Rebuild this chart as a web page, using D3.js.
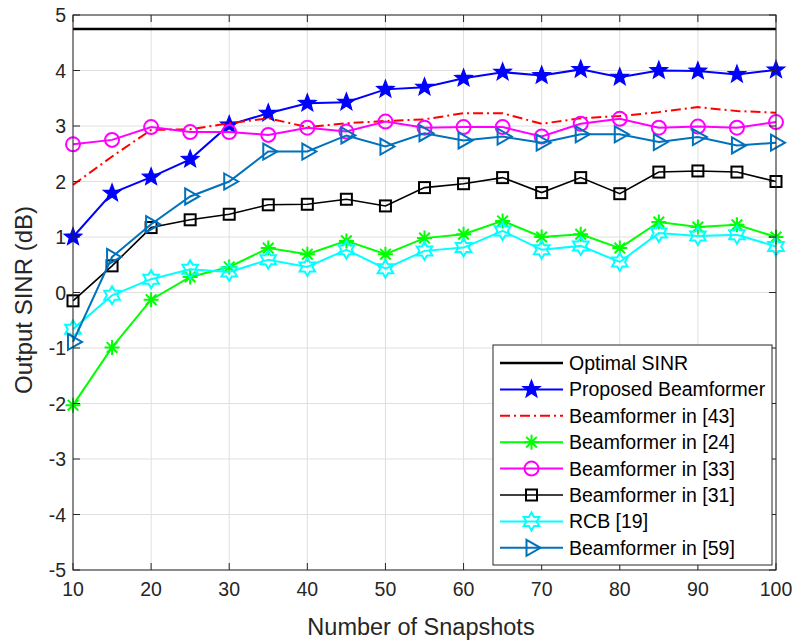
<!DOCTYPE html>
<html>
<head>
<meta charset="utf-8">
<script src="https://cdn.jsdelivr.net/npm/d3@7"></script>
<style>
  body { margin: 0; background: #fff; }
  svg text { font-family: "Liberation Sans", Arial, Helvetica, sans-serif; fill: #262626; }
</style>
</head>
<body>
<svg id="chart" width="798" height="643"></svg>
<script>
// snapshots on x axis
var snapshots = [10, 15, 20, 25, 30, 35, 40, 45, 50, 55, 60, 65, 70, 75, 80, 85, 90, 95, 100];

var optimal_sinr = 4.75;
var proposed = [1.0, 1.79, 2.08, 2.40, 3.02, 3.23, 3.41, 3.43, 3.66, 3.70, 3.86, 3.97, 3.91, 4.02, 3.88, 4.0, 3.99, 3.93, 4.01];
var bf43 = [1.94, 2.45, 2.93, 2.94, 3.05, 3.14, 2.98, 3.05, 3.09, 3.12, 3.23, 3.23, 3.04, 3.14, 3.18, 3.25, 3.34, 3.27, 3.24];
var bf24 = [-2.03, -0.99, -0.13, 0.28, 0.46, 0.80, 0.69, 0.93, 0.69, 0.98, 1.05, 1.29, 1.0, 1.05, 0.80, 1.27, 1.18, 1.22, 1.0];
var bf33 = [2.67, 2.75, 2.98, 2.89, 2.89, 2.84, 2.97, 2.90, 3.08, 2.97, 2.98, 2.98, 2.81, 3.04, 3.13, 2.97, 2.99, 2.97, 3.07];
var bf31 = [-0.15, 0.48, 1.17, 1.31, 1.41, 1.58, 1.59, 1.68, 1.56, 1.89, 1.96, 2.07, 1.80, 2.07, 1.78, 2.17, 2.19, 2.17, 2.0];
var rcb19 = [-0.66, -0.05, 0.24, 0.42, 0.37, 0.59, 0.46, 0.77, 0.43, 0.75, 0.81, 1.11, 0.77, 0.84, 0.55, 1.07, 1.02, 1.04, 0.83];
var bf59 = [-0.89, 0.64, 1.23, 1.73, 2.0, 2.54, 2.54, 2.83, 2.63, 2.87, 2.74, 2.81, 2.70, 2.85, 2.85, 2.71, 2.80, 2.65, 2.70];

var x_ticks = [10, 20, 30, 40, 50, 60, 70, 80, 90, 100];
var y_ticks = [-5, -4, -3, -2, -1, 0, 1, 2, 3, 4, 5];

var series = [
    { name: "Optimal SINR", values: snapshots.map(() => optimal_sinr), color: "#000000", marker: "none", dash: null, width: 2.5 },
    { name: "Proposed Beamformer", values: proposed, color: "#0000ff", marker: "pentagram", dash: null, width: 2 },
    { name: "Beamformer in [43]", values: bf43, color: "#ff0000", marker: "none", dash: "10,4,2,4", width: 2 },
    { name: "Beamformer in [24]", values: bf24, color: "#00ff00", marker: "asterisk", dash: null, width: 2 },
    { name: "Beamformer in [33]", values: bf33, color: "#ff00ff", marker: "circle", dash: null, width: 2 },
    { name: "Beamformer in [31]", values: bf31, color: "#000000", marker: "square", dash: null, width: 1.6 },
    { name: "RCB [19]", values: rcb19, color: "#00ffff", marker: "hexagram", dash: null, width: 2 },
    { name: "Beamformer in [59]", values: bf59, color: "#0072bd", marker: "triangle", dash: null, width: 2 }
];

var svg = d3.select("svg#chart");
const LEFT = 73, RIGHT = 776, TOP = 15, BOTTOM = 570;

var x = d3.scaleLinear().domain([10, 100]).range([LEFT, RIGHT]);
var y = d3.scaleLinear().domain([-5, 5]).range([BOTTOM, TOP]);

// grid
var grid = svg.append("g");
grid.selectAll("line.gx")
    .data(x_ticks)
    .join("line")
    .attr("x1", d => x(d)).attr("x2", d => x(d))
    .attr("y1", TOP).attr("y2", BOTTOM)
    .style("stroke", "#dfdfdf").style("stroke-width", 1);
grid.selectAll("line.gy")
    .data(y_ticks)
    .join("line")
    .attr("x1", LEFT).attr("x2", RIGHT)
    .attr("y1", d => y(d)).attr("y2", d => y(d))
    .style("stroke", "#dfdfdf").style("stroke-width", 1);

function star_path(points, outer, inner) {
    var p = [];
    for (let i = 0; i < points * 2; i++) {
        let r = i % 2 == 0 ? outer : inner;
        let a = -Math.PI / 2 + i * Math.PI / points;
        p.push([r * Math.cos(a), r * Math.sin(a)]);
    }
    return "M" + p.map(q => q[0].toFixed(2) + "," + q[1].toFixed(2)).join("L") + "Z";
}

function draw_marker(g, kind, color) {
    if (kind == "pentagram") {
        g.append("path").attr("d", star_path(5, 9.2, 3.9))
            .attr("fill", color).style("stroke", color).style("stroke-width", 1.2);
    } else if (kind == "hexagram") {
        g.append("path").attr("d", star_path(6, 9, 5.2))
            .attr("fill", "none").style("stroke", color).style("stroke-width", 2);
    } else if (kind == "circle") {
        g.append("circle").attr("r", 7)
            .attr("fill", "none").style("stroke", color).style("stroke-width", 2);
    } else if (kind == "square") {
        g.append("rect").attr("x", -5.5).attr("y", -5.5).attr("width", 11).attr("height", 11)
            .attr("fill", "none").style("stroke", color).style("stroke-width", 2);
    } else if (kind == "triangle") {
        g.append("path").attr("d", "M-5,-8L9,0L-5,8Z")
            .attr("fill", "none").style("stroke", color).style("stroke-width", 2);
    } else if (kind == "asterisk") {
        var r = 7.5;
        var d = "";
        [0, 45, 90, 135].forEach(function(a) {
            let c = Math.cos(a * Math.PI / 180) * r, s = Math.sin(a * Math.PI / 180) * r;
            d += "M" + (-c) + "," + (-s) + "L" + c + "," + s;
        });
        g.append("path").attr("d", d).style("stroke", color).style("stroke-width", 2);
    }
}

var line = d3.line().x((d, i) => x(snapshots[i])).y(d => y(d));

var plot = svg.append("g");
series.forEach(function(s) {
    var g = plot.append("g");
    g.append("path")
        .attr("d", line(s.values))
        .attr("fill", "none")
        .style("stroke", s.color)
        .style("stroke-width", s.width)
        .style("stroke-dasharray", s.dash);
    if (s.marker != "none") {
        g.selectAll("g.m")
            .data(s.values)
            .join("g")
            .attr("transform", (d, i) => "translate(" + x(snapshots[i]) + "," + y(d) + ")")
            .each(function() { draw_marker(d3.select(this), s.marker, s.color); });
    }
});

// axes box with inward ticks
var axes = svg.append("g");
axes.append("rect")
    .attr("x", LEFT).attr("y", TOP)
    .attr("width", RIGHT - LEFT).attr("height", BOTTOM - TOP)
    .attr("fill", "none").style("stroke", "#262626").style("stroke-width", 1);

var TICK = 7;
x_ticks.forEach(function(t) {
    axes.append("line").attr("x1", x(t)).attr("x2", x(t)).attr("y1", BOTTOM).attr("y2", BOTTOM - TICK)
        .style("stroke", "#262626");
    axes.append("line").attr("x1", x(t)).attr("x2", x(t)).attr("y1", TOP).attr("y2", TOP + TICK)
        .style("stroke", "#262626");
});
y_ticks.forEach(function(t) {
    axes.append("line").attr("x1", LEFT).attr("x2", LEFT + TICK).attr("y1", y(t)).attr("y2", y(t))
        .style("stroke", "#262626");
    axes.append("line").attr("x1", RIGHT).attr("x2", RIGHT - TICK).attr("y1", y(t)).attr("y2", y(t))
        .style("stroke", "#262626");
});

axes.selectAll("text.xt")
    .data(x_ticks)
    .join("text")
    .attr("x", d => x(d))
    .attr("y", BOTTOM + 26)
    .attr("text-anchor", "middle")
    .style("font-size", "19.5px")
    .text(d => d);

axes.selectAll("text.yt")
    .data(y_ticks)
    .join("text")
    .attr("x", LEFT - 7)
    .attr("y", d => y(d))
    .attr("text-anchor", "end")
    .attr("dominant-baseline", "central")
    .style("font-size", "19.5px")
    .text(d => d);

svg.append("text")
    .attr("x", 421)
    .attr("y", 635)
    .attr("text-anchor", "middle")
    .style("font-size", "23.5px")
    .text("Number of Snapshots");

svg.append("text")
    .attr("transform", "translate(32," + 300 + ") rotate(-90)")
    .attr("text-anchor", "middle")
    .style("font-size", "24px")
    .text("Output SINR (dB)");

// legend
var legend = svg.append("g").attr("transform", "translate(493,345)");
legend.append("rect")
    .attr("width", 279).attr("height", 220)
    .attr("fill", "#fff").style("stroke", "#262626").style("stroke-width", 1);

var rows = legend.selectAll("g")
    .data(series)
    .join("g")
    .attr("transform", (d, i) => "translate(0," + (18 + i * 26.4) + ")");

rows.append("line")
    .attr("x1", 7).attr("x2", 70)
    .attr("y1", 0).attr("y2", 0)
    .style("stroke", d => d.color)
    .style("stroke-width", d => d.width)
    .style("stroke-dasharray", d => d.dash);

rows.each(function(d) {
    if (d.marker != "none") {
        let g = d3.select(this).append("g").attr("transform", "translate(38.5,0)");
        draw_marker(g, d.marker, d.color);
    }
});

rows.append("text")
    .attr("x", 76)
    .attr("y", 0)
    .attr("dominant-baseline", "central")
    .style("font-size", "19.5px")
    .style("fill", "#000")
    .text(d => d.name);
</script>
</body>
</html>
